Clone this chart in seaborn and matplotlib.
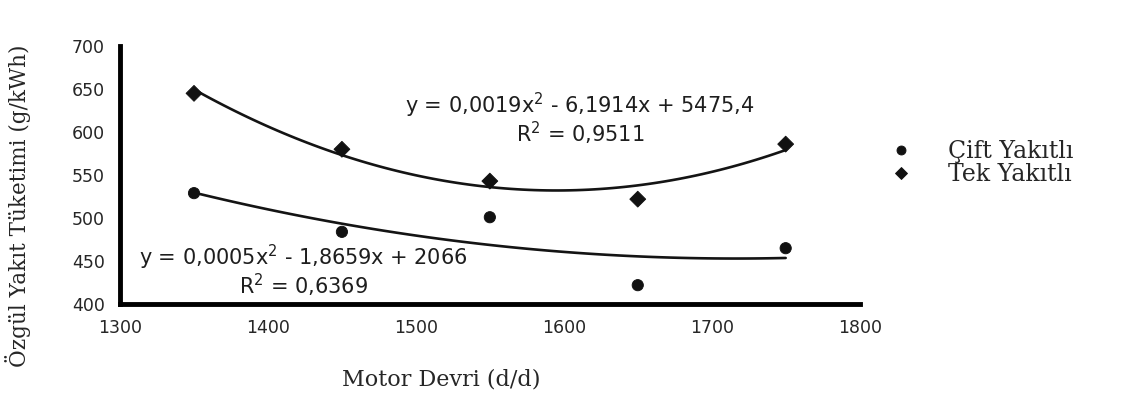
import numpy as np
import pandas as pd
import seaborn as sns
import matplotlib.pyplot as plt

# values
devir = [1350, 1450, 1550, 1650, 1750]
cift_yakitli = [529, 484, 501, 422, 465]
tek_yakitli = [645, 580, 543, 522, 586]
x_ticks = [1300, 1400, 1500, 1600, 1700, 1800]
y_ticks = [400, 450, 500, 550, 600, 650, 700]

sns.set_style("white")
plt.rcParams['font.family'] = ['DejaVu Sans']

df = pd.DataFrame({
    "devir": devir * 2,
    "sfc": cift_yakitli + tek_yakitli,
    "seri": ["Çift Yakıtlı"] * 5 + ["Tek Yakıtlı"] * 5,
})

fig = plt.figure(figsize=(11.24, 3.97), dpi=100)
ax = fig.add_axes([0.1068, 0.234, 0.658, 0.650])

# quadratic trend lines
sns.regplot(x=devir, y=tek_yakitli, order=2, ci=None, scatter=False, truncate=True,
            line_kws=dict(color="#141414", lw=1.9), ax=ax)
sns.regplot(x=devir, y=cift_yakitli, order=2, ci=None, scatter=False, truncate=True,
            line_kws=dict(color="#141414", lw=1.9), ax=ax)

sns.scatterplot(data=df, x="devir", y="sfc", hue="seri", style="seri",
                markers={"Çift Yakıtlı": "o", "Tek Yakıtlı": "D"},
                palette={"Çift Yakıtlı": "#111111", "Tek Yakıtlı": "#111111"},
                s=65, edgecolor="#111111", ax=ax, legend=True, zorder=3)

ax.set_xlim(1300, 1800)
ax.set_ylim(400, 700)
ax.set_xticks(x_ticks)
ax.set_yticks(y_ticks)
ax.tick_params(axis="both", direction="out", length=7, width=2.5, labelsize=12.5,
               color="black", pad=4)
for side in ["top", "right"]:
    ax.spines[side].set_visible(False)
for side in ["left", "bottom"]:
    ax.spines[side].set_linewidth(3.5)
    ax.spines[side].set_color("black")

ax.set_xlabel("Motor Devri (d/d)", family="DejaVu Serif", fontsize=16)
ax.xaxis.set_label_coords(0.434, -0.25)
ax.set_ylabel("Özgül Yakıt Tüketimi (g/kWh)", family="DejaVu Serif", fontsize=15.5)
ax.yaxis.set_label_coords(-0.12, 0.38)

txt = dict(ha="center", va="center", fontsize=15, color="#1e1e1e")
ax.text(1611, 631, "y = 0,0019x$^2$ - 6,1914x + 5475,4", **txt)
ax.text(1611, 599, "R$^2$ = 0,9511", **txt)
ax.text(1424, 454, "y = 0,0005x$^2$ - 1,8659x + 2066", **txt)
ax.text(1424, 422, "R$^2$ = 0,6369", **txt)

leg = ax.legend(loc="center left", bbox_to_anchor=(0.995, 0.545), frameon=False,
                prop=dict(family="DejaVu Serif", size=17), handletextpad=1.0,
                labelspacing=0.0, markerscale=0.8)

fig.savefig("out.png", dpi=100)
